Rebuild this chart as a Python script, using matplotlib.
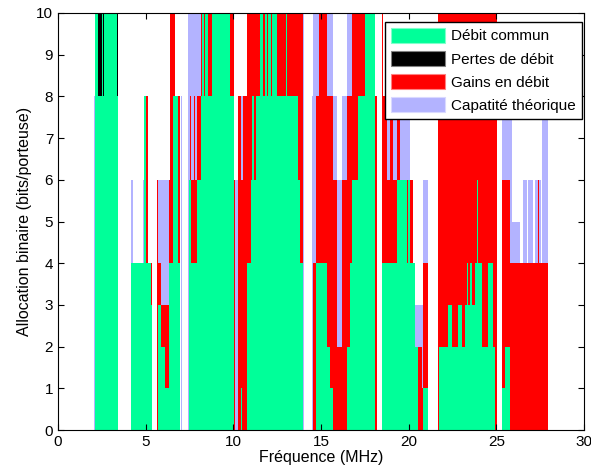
import numpy as np
import matplotlib
matplotlib.use("Agg")
import matplotlib.pyplot as plt
from matplotlib.patches import Patch

plt.rcParams['font.family'] = ['Liberation Sans', 'DejaVu Sans']

# segments per layer: (start MHz, end MHz, bits)
green_seg = [
    (2.11, 2.26, 10), (2.26, 2.49, 8), (2.49, 2.55, 10), (2.55, 2.60, 8), (2.60, 3.38, 10), (3.38, 3.44, 8),
    (4.16, 4.93, 4), (4.93, 5.02, 8), (5.02, 5.30, 4), (5.30, 5.34, 3),
    (5.72, 5.90, 3), (5.90, 6.13, 2), (6.13, 6.32, 1), (6.32, 6.55, 4), (6.55, 6.86, 8), (6.86, 6.96, 4),
    (7.47, 7.58, 6), (7.58, 7.90, 4), (7.90, 8.14, 6), (8.14, 8.20, 8), (8.20, 8.33, 10), (8.33, 8.39, 8),
    (8.39, 8.58, 10), (8.58, 8.77, 8), (8.77, 9.81, 10), (9.81, 10.04, 8),
    (10.42, 10.50, 1), (10.76, 11.00, 4), (11.00, 11.05, 6), (11.05, 11.20, 8), (11.20, 11.30, 6),
    (11.30, 11.52, 8), (11.52, 11.70, 10), (11.70, 11.80, 8), (11.80, 11.90, 10), (11.90, 11.95, 8),
    (11.95, 12.15, 10), (12.15, 12.20, 8), (12.20, 12.48, 10), (12.48, 13.00, 8), (13.00, 13.05, 10),
    (13.05, 13.71, 8), (13.71, 13.80, 6), (13.80, 13.97, 4),
    (14.70, 15.33, 4), (15.33, 15.52, 2), (15.52, 15.71, 1),
    (16.47, 16.66, 2), (16.66, 16.75, 4), (16.75, 17.13, 6), (17.13, 17.51, 8), (17.51, 18.08, 10),
    (18.46, 19.32, 4), (19.32, 19.89, 6), (19.89, 19.98, 4), (19.98, 20.08, 6), (20.08, 20.37, 4),
    (20.37, 20.56, 2), (20.84, 21.13, 1),
    (21.75, 22.27, 2), (22.27, 22.46, 3), (22.46, 22.80, 2), (22.80, 23.03, 3), (23.03, 23.22, 2),
    (23.22, 23.31, 3), (23.31, 23.41, 4), (23.41, 23.50, 3), (23.50, 23.60, 4), (23.60, 23.79, 3),
    (23.79, 23.88, 4), (23.88, 23.94, 6), (23.94, 24.17, 4), (24.17, 24.51, 2), (24.51, 24.83, 4),
    (24.83, 24.93, 2), (25.31, 25.50, 1), (25.50, 25.78, 2),
]

loss_seg = [(2.26, 2.49, 10), (2.55, 2.60, 10), (3.38, 3.44, 10)]

gain_seg = [
    (5.02, 5.12, 8), (5.30, 5.34, 4),
    (5.63, 5.72, 6), (5.72, 5.90, 4), (5.90, 6.13, 3), (6.13, 6.32, 3), (6.32, 6.39, 6), (6.39, 6.67, 10),
    (6.86, 6.96, 8),
    (7.53, 7.60, 8), (7.60, 7.73, 6), (7.73, 7.83, 8), (7.83, 7.92, 6), (7.92, 8.14, 8),
    (8.14, 8.20, 10), (8.33, 8.39, 10), (8.58, 8.77, 10),
    (9.81, 10.04, 10), (10.04, 10.12, 6), (10.29, 10.45, 8), (10.45, 10.55, 6), (10.55, 10.76, 8),
    (10.76, 11.52, 10), (11.70, 11.80, 10), (11.90, 11.95, 10), (12.15, 12.20, 10), (12.48, 13.00, 10),
    (13.05, 13.97, 10),
    (14.56, 14.70, 4), (14.70, 14.89, 8), (14.89, 15.33, 10), (15.33, 15.71, 8), (15.71, 15.90, 6),
    (15.90, 16.20, 2), (16.20, 16.47, 6), (16.47, 16.75, 8), (16.75, 17.51, 10),
    (18.08, 18.18, 8), (18.46, 18.56, 10), (18.56, 18.75, 8), (18.75, 18.94, 6), (18.94, 19.13, 8),
    (19.13, 19.32, 6), (19.32, 19.51, 8), (19.89, 19.98, 6), (20.08, 20.27, 6),
    (20.56, 20.75, 2), (20.75, 20.84, 1), (20.84, 21.13, 4),
    (21.70, 25.02, 10),
    (25.31, 25.78, 6), (25.78, 27.93, 4), (27.35, 27.44, 6),
]

capa_seg = [
    (2.05, 2.11, 8), (4.16, 4.26, 6), (4.85, 4.93, 6), (5.63, 6.32, 6), (7.00, 7.05, 8), (7.43, 8.14, 10),
    (10.12, 10.30, 6), (10.45, 10.55, 8), (13.97, 14.05, 10), (14.50, 14.56, 8), (14.56, 14.89, 10),
    (15.33, 15.71, 10), (15.71, 15.90, 8), (15.90, 16.20, 6), (16.20, 16.47, 8), (16.47, 16.75, 10),
    (18.75, 18.94, 8), (19.13, 19.32, 8), (19.51, 20.08, 8), (20.37, 20.84, 3), (20.84, 21.13, 6),
    (25.31, 25.88, 8), (25.88, 26.35, 5), (26.54, 26.73, 6), (26.83, 27.10, 6), (27.20, 27.54, 6),
    (27.63, 27.93, 8),
]

labels = ['Débit commun', 'Pertes de débit', 'Gains en débit', 'Capatité théorique']
c_green = '#00ff99'
c_black = '#000000'
c_red = '#ff0000'
c_capa = '#b3b3ff'


def draw(ax, segs, color):
    lo = np.array([s[0] for s in segs])
    hi = np.array([s[1] for s in segs])
    bits = np.array([s[2] for s in segs])
    ax.bar(lo, bits, width=hi - lo, align='edge', color=color, linewidth=0)


fig = plt.figure(figsize=(5.91, 4.72), dpi=100)
ax = fig.add_axes([58 / 591, 1 - 430 / 472, 526 / 591, 417 / 472])

draw(ax, capa_seg, c_capa)
draw(ax, gain_seg, c_red)
draw(ax, loss_seg, c_black)
draw(ax, green_seg, c_green)

ax.set_xlim(0, 30)
ax.set_ylim(0, 10)
ax.set_xticks(np.arange(0, 31, 5))
ax.set_yticks(np.arange(0, 11, 1))
ax.tick_params(direction='in', top=True, right=True, labelsize=11, length=4)
ax.set_xlabel('Fréquence (MHz)', fontsize=11.5, labelpad=1)
ax.set_ylabel('Allocation binaire (bits/porteuse)', fontsize=11.5, labelpad=3)

handles = [
    Patch(facecolor=c_green, edgecolor='#80ffcc', linewidth=0.8),
    Patch(facecolor=c_black, edgecolor='#808080', linewidth=0.8),
    Patch(facecolor=c_red, edgecolor='#ff8080', linewidth=0.8),
    Patch(facecolor=c_capa, edgecolor='#d9d9ff', linewidth=0.8),
]
leg = ax.legend(handles, labels, loc='upper right', bbox_to_anchor=(0.9956, 0.979),
                fontsize=11, fancybox=False, framealpha=1, edgecolor='black',
                handlelength=3.5, handleheight=1.1, labelspacing=0.5,
                handletextpad=0.4, borderpad=0.4, borderaxespad=0)
leg.get_frame().set_linewidth(1.0)

fig.savefig('out.png', dpi=100)
